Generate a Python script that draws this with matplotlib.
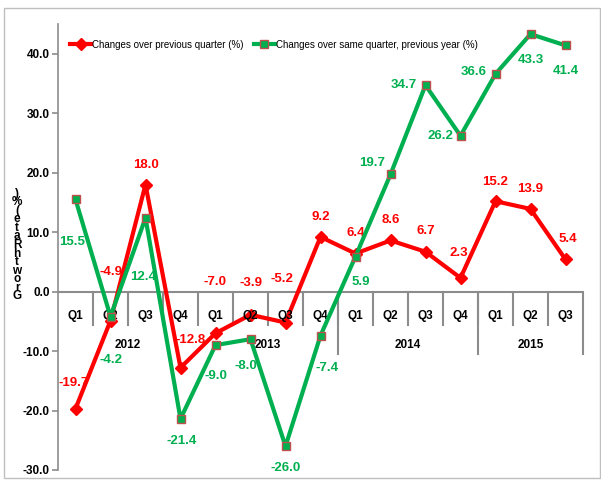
import matplotlib.pyplot as plt
from matplotlib.patches import Rectangle
import numpy as np

quarters = ['Q1', 'Q2', 'Q3', 'Q4', 'Q1', 'Q2', 'Q3', 'Q4',
            'Q1', 'Q2', 'Q3', 'Q4', 'Q1', 'Q2', 'Q3']
years = ['2012', '2013', '2014', '2015']
year_quarters = [4, 4, 4, 3]
qoq = [-19.7, -4.9, 18.0, -12.8, -7.0, -3.9, -5.2, 9.2,
       6.4, 8.6, 6.7, 2.3, 15.2, 13.9, 5.4]
yoy = [15.5, -4.2, 12.4, -21.4, -9.0, -8.0, -26.0, -7.4,
       5.9, 19.7, 34.7, 26.2, 36.6, 43.3, 41.4]
yticks = [-30, -20, -10, 0, 10, 20, 30, 40]

# label offsets in pixels (dx, dy)
red_off = [(-2, 26), (0, 49), (0, 20), (10, 28), (0, 51), (0, 32), (-4, 44), (0, 20),
           (0, 21), (0, 20), (0, 21), (-2, 25), (0, 19), (0, 20), (2, 20)]
green_off = [(-3, -43), (0, -43), (-2, -59), (1, -22), (0, -31), (-5, -27), (0, -22), (7, -32),
             (5, -25), (-18, 11), (-22, 0), (-20, 0), (-22, 2), (0, -26), (0, -26)]

RED = '#FF0000'
GREEN = '#00B050'
GRAY = '#8C8C8C'
plt.rcParams['font.family'] = ['Liberation Sans', 'DejaVu Sans']

fig = plt.figure(figsize=(6.01, 4.84), dpi=100)
ax = fig.add_axes([58 / 601, 14 / 484, (583 - 58) / 601, (470 - 24) / 484])
ax.set_ylim(-30, 45)
ax.set_xlim(-0.5, 14.5)

# border around the whole chart
fig.add_artist(Rectangle((4 / 601, 6 / 484), 596 / 601, 470 / 484, transform=fig.transFigure,
                         fill=False, edgecolor='#BFBFBF', lw=1))

x = np.arange(len(quarters))
ax.plot(x, qoq, color=RED, lw=3, marker='D', ms=6, mfc=RED, mec=RED,
        label='Changes over previous quarter (%)', zorder=3)
ax.plot(x, yoy, color=GREEN, lw=3, marker='s', ms=6, mfc=GREEN, mec='#C0504D', mew=1,
        label='Changes over same quarter, previous year (%)', zorder=4)

for i in range(len(x)):
    ax.annotate(f'{qoq[i]:.1f}', (x[i], qoq[i]), xytext=red_off[i], textcoords='offset pixels',
                ha='center', va='center', color=RED, fontsize=9.5, fontweight='bold')
    ax.annotate(f'{yoy[i]:.1f}', (x[i], yoy[i]), xytext=green_off[i], textcoords='offset pixels',
                ha='center', va='center', color=GREEN, fontsize=9.5, fontweight='bold')

# axes styling
for s in ['top', 'right', 'bottom']:
    ax.spines[s].set_visible(False)
ax.spines['left'].set_color(GRAY)
ax.spines['left'].set_linewidth(1.2)
ax.set_yticks(yticks)
ax.set_yticklabels([f'{v:.1f}' for v in yticks])
ax.tick_params(axis='y', colors=GRAY, labelcolor='black', labelsize=8.5, length=4, width=1.2, pad=2)
for t in ax.get_yticklabels():
    t.set_fontweight('bold')
ax.set_xticks([])

# category axis at zero
ax.axhline(0, color=GRAY, lw=1.5, zorder=1)
for i, q in enumerate(quarters):
    ax.annotate(q, (x[i], 0), xytext=(0, -24), textcoords='offset pixels',
                ha='center', va='center', fontsize=8.5, fontweight='bold')
start = 0
for yr, n in zip(years, year_quarters):
    mid = start + (n - 1) / 2
    ax.annotate(yr, (mid, 0), xytext=(0, -53), textcoords='offset pixels',
                ha='center', va='center', fontsize=8.5, fontweight='bold')
    start += n
for b in np.arange(0.5, 14.5, 1.0):
    ax.plot([b, b], [0, -33 / 5.96], color=GRAY, lw=1.5, clip_on=False, zorder=1)
for b in [7.5, 11.5, 14.5]:
    ax.plot([b, b], [0, -63 / 5.96], color=GRAY, lw=1.5, clip_on=False, zorder=1)

# stacked y label
fig.text(17 / 601, 1 - 245 / 484, ')\n%\n(\ne\nt\na\nR\nh\nt\nw\no\nr\nG', ha='center', va='center',
         fontsize=8.5, linespacing=0.62, fontweight='bold')

leg = ax.legend(loc='upper left', bbox_to_anchor=(0.01, 0.98), ncol=2, frameon=False,
                fontsize=7, handlelength=2.2, handletextpad=0.1, columnspacing=1.0,
                borderaxespad=0.3)

fig.savefig('out.png', dpi=100)
